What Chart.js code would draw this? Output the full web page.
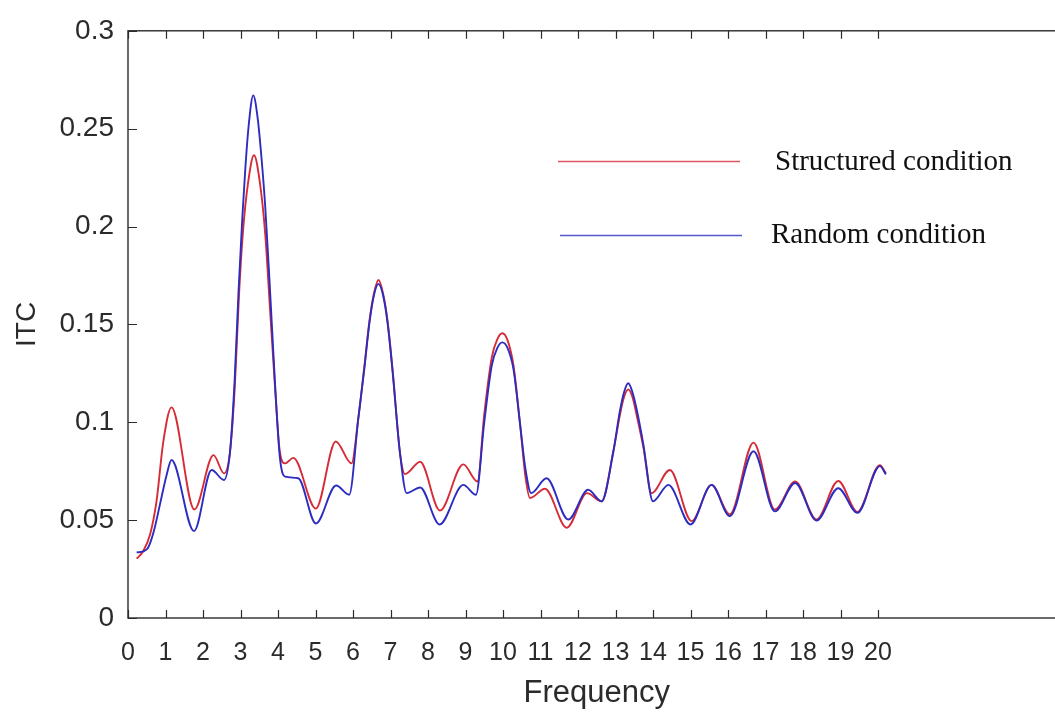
<!DOCTYPE html>
<html>
<head>
<meta charset="utf-8">
<script src="https://cdn.jsdelivr.net/npm/chart.js@4"></script>
<style>
  html, body { margin: 0; padding: 0; background: #fff; overflow: hidden; }
  #wrap { width: 1080px; height: 713px; }
</style>
</head>
<body>
<div id="wrap"><canvas id="chart" width="1080" height="713"></canvas></div>
<script>
// ITC spectrum, structured vs random condition
var structuredFreq = [0.23, 0.4, 0.59, 0.76, 0.94, 1.16, 1.77, 2.28, 2.56, 2.72, 2.85, 2.96, 3.06, 3.2, 3.36, 3.52, 3.66, 3.78, 3.92, 4.05, 4.19, 4.41, 5.01, 5.54, 5.96, 6.14, 6.3, 6.44, 6.56, 6.68, 6.8, 6.92, 7.06, 7.25, 7.39, 7.79, 8.32, 8.94, 9.32, 9.5, 9.7, 9.85, 9.98, 10.12, 10.28, 10.45, 10.6, 10.72, 11.12, 11.7, 12.24, 12.63, 12.94, 13.12, 13.23, 13.34, 13.45, 13.56, 13.74, 13.96, 14.45, 15.03, 15.56, 16.05, 16.68, 17.25, 17.79, 18.36, 18.94, 19.45, 20.05, 20.21];
var structuredItc = [0.0303, 0.034, 0.0428, 0.0596, 0.0899, 0.1076, 0.0554, 0.0832, 0.0739, 0.0848, 0.119, 0.165, 0.196, 0.222, 0.2364, 0.222, 0.196, 0.16, 0.118, 0.0848, 0.079, 0.0818, 0.0559, 0.0902, 0.079, 0.1017, 0.128, 0.152, 0.166, 0.1727, 0.166, 0.152, 0.126, 0.0848, 0.0735, 0.0798, 0.0549, 0.0785, 0.0697, 0.104, 0.133, 0.1425, 0.1455, 0.142, 0.129, 0.1, 0.072, 0.0613, 0.066, 0.0461, 0.0638, 0.0596, 0.0848, 0.104, 0.113, 0.1168, 0.113, 0.104, 0.0876, 0.0638, 0.0756, 0.0495, 0.068, 0.0529, 0.0896, 0.0554, 0.0697, 0.0503, 0.07, 0.0542, 0.0781, 0.0739];

var randomFreq = [0.23, 0.4, 0.54, 0.69, 0.87, 1.03, 1.16, 1.76, 2.23, 2.56, 2.72, 2.84, 2.95, 3.05, 3.13, 3.22, 3.34, 3.46, 3.56, 3.66, 3.78, 3.92, 4.05, 4.19, 4.54, 5.01, 5.55, 5.9, 6.14, 6.3, 6.44, 6.56, 6.68, 6.8, 6.92, 7.06, 7.25, 7.43, 7.79, 8.31, 8.94, 9.28, 9.5, 9.7, 9.85, 9.98, 10.12, 10.28, 10.45, 10.6, 10.75, 11.16, 11.74, 12.27, 12.63, 12.94, 13.12, 13.23, 13.34, 13.45, 13.56, 13.74, 14.0, 14.41, 15.0, 15.56, 16.05, 16.68, 17.25, 17.79, 18.36, 18.94, 19.45, 20.05, 20.21];
var randomItc = [0.0335, 0.034, 0.036, 0.0444, 0.0596, 0.0731, 0.0807, 0.0444, 0.0756, 0.0705, 0.0848, 0.12, 0.168, 0.205, 0.23, 0.252, 0.267, 0.255, 0.235, 0.21, 0.17, 0.12, 0.082, 0.0722, 0.0714, 0.0483, 0.0677, 0.063, 0.1017, 0.127, 0.151, 0.165, 0.1707, 0.165, 0.151, 0.125, 0.0848, 0.0638, 0.0667, 0.0478, 0.068, 0.063, 0.1, 0.129, 0.138, 0.1408, 0.138, 0.127, 0.1, 0.076, 0.0638, 0.0714, 0.0503, 0.0655, 0.0596, 0.0848, 0.106, 0.1155, 0.1199, 0.1155, 0.107, 0.089, 0.0596, 0.068, 0.0478, 0.068, 0.052, 0.0852, 0.0545, 0.069, 0.0498, 0.0663, 0.0537, 0.0776, 0.0734];

var xTicks = [0, 1, 2, 3, 4, 5, 6, 7, 8, 9, 10, 11, 12, 13, 14, 15, 16, 17, 18, 19, 20];
var yTicks = [0, 0.05, 0.1, 0.15, 0.2, 0.25, 0.3];
var yTickLabels = ['0', '0.05', '0.1', '0.15', '0.2', '0.25', '0.3'];

var seriesNames = ['Structured condition', 'Random condition'];
var seriesColors = ['#d62c38', '#2c2cc0'];

function toPoints(xs, ys) {
  return xs.map(function(x, i) { return {x: x, y: ys[i]}; });
}

var axisColor = '#2b2b2b';

// box around the plot, inward tick marks and the in-plot legend
var framePlugin = {
  id: 'frame',
  afterDraw: function(chart) {
    var ctx = chart.ctx;
    var a = chart.chartArea;
    var xs = chart.scales.x, ys = chart.scales.y;
    ctx.save();
    ctx.strokeStyle = axisColor;
    ctx.lineWidth = 1.4;
    ctx.strokeRect(a.left, a.top, a.right - a.left, a.bottom - a.top);
    ctx.beginPath();
    xTicks.forEach(function(v) {
      var px = Math.round(xs.getPixelForValue(v)) + 0.5;
      ctx.moveTo(px, a.bottom); ctx.lineTo(px, a.bottom - 8);
      ctx.moveTo(px, a.top); ctx.lineTo(px, a.top + 8);
    });
    yTicks.forEach(function(v) {
      var py = Math.round(ys.getPixelForValue(v)) + 0.5;
      ctx.moveTo(a.left, py); ctx.lineTo(a.left + 9, py);
    });
    ctx.lineWidth = 1.2;
    ctx.stroke();

    // legend
    var rows = [
      {x1: 558, x2: 740, ly: 161.5, tx: 775, ty: 170},
      {x1: 560, x2: 742, ly: 235.5, tx: 771, ty: 243}
    ];
    ctx.font = '29px "Liberation Serif", "Times New Roman", serif';
    ctx.textBaseline = 'alphabetic';
    ctx.textAlign = 'left';
    rows.forEach(function(r, i) {
      ctx.beginPath();
      ctx.strokeStyle = seriesColors[i];
      ctx.globalAlpha = 0.8;
      ctx.lineWidth = 1.6;
      ctx.moveTo(r.x1, r.ly); ctx.lineTo(r.x2, r.ly);
      ctx.stroke();
      ctx.globalAlpha = 1;
      ctx.fillStyle = '#111';
      ctx.fillText(seriesNames[i], r.tx, r.ty);
    });
    ctx.restore();
  }
};

var ctx = document.getElementById('chart').getContext('2d');
var chart = new Chart(ctx, {
  type: 'line',
  data: {
    datasets: [
      {
        label: seriesNames[0],
        data: toPoints(structuredFreq, structuredItc),
        borderColor: seriesColors[0],
        borderWidth: 1.9,
        pointRadius: 0,
        cubicInterpolationMode: 'monotone',
        fill: false,
        order: 1
      },
      {
        label: seriesNames[1],
        data: toPoints(randomFreq, randomItc),
        borderColor: seriesColors[1],
        borderWidth: 1.9,
        pointRadius: 0,
        cubicInterpolationMode: 'monotone',
        fill: false,
        order: 0
      }
    ]
  },
  options: {
    responsive: false,
    animation: false,
    devicePixelRatio: 1,
    layout: { padding: { top: 24, right: 14.5, bottom: 0, left: 0 } },
    plugins: {
      legend: { display: false },
      tooltip: { enabled: false }
    },
    scales: {
      x: {
        type: 'linear',
        min: 0,
        max: 25,
        afterBuildTicks: function(scale) {
          scale.ticks = xTicks.map(function(v) { return {value: v}; });
        },
        afterFit: function(scale) { scale.height = 95; },
        grid: { display: false, drawTicks: false },
        border: { display: false },
        ticks: {
          autoSkip: false,
          maxRotation: 0,
          padding: 20,
          color: axisColor,
          font: { family: '"Liberation Sans", Arial, sans-serif', size: 25 },
          callback: function(v) { return String(v); }
        },
        title: {
          display: true,
          text: 'Frequency',
          color: axisColor,
          font: { family: '"Liberation Sans", Arial, sans-serif', size: 31 },
          padding: { top: 0, bottom: 1 }
        }
      },
      y: {
        min: 0,
        max: 0.3,
        afterBuildTicks: function(scale) {
          scale.ticks = yTicks.map(function(v) { return {value: v}; });
        },
        afterFit: function(scale) { scale.width = 128; },
        grid: { display: false, drawTicks: false },
        border: { display: false },
        ticks: {
          padding: 14,
          color: axisColor,
          font: { family: '"Liberation Sans", Arial, sans-serif', size: 28 },
          callback: function(v) {
            var i = yTicks.indexOf(v);
            return i >= 0 ? yTickLabels[i] : '';
          }
        },
        title: {
          display: true,
          text: 'ITC',
          color: axisColor,
          font: { family: '"Liberation Sans", Arial, sans-serif', size: 28 },
          padding: { top: 10, bottom: 0 }
        }
      }
    }
  },
  plugins: [framePlugin]
});
</script>
</body>
</html>
